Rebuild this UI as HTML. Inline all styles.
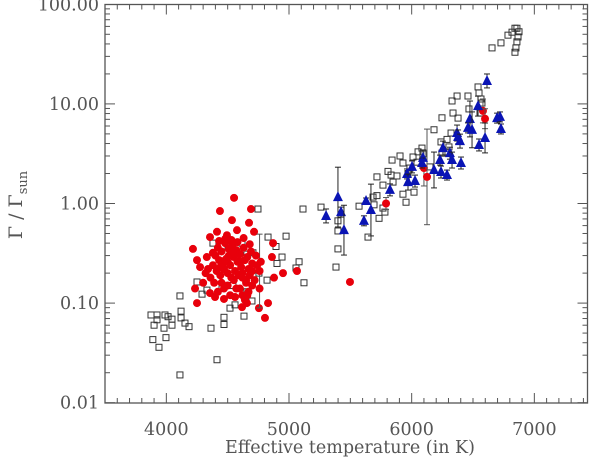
<!DOCTYPE html>
<html><head><meta charset="utf-8">
<style>
html,body{margin:0;padding:0;background:#fff;}
svg{display:block;font-family:"DejaVu Serif","Liberation Serif",serif;}
</style></head>
<body>
<svg id="chart" width="600" height="466" viewBox="0 0 600 466" xmlns="http://www.w3.org/2000/svg">
<g id="axes"></g>
<g id="marks"></g>
<text x="350" y="453" font-size="17.5" text-anchor="middle" fill="#555">Effective temperature (in K)</text>
<text transform="translate(22,205) rotate(-90)" font-size="19" text-anchor="middle" fill="#555">Γ / Γ<tspan font-size="13" dy="5">sun</tspan></text>
</svg>
<script>
const xTicks = [4000, 5000, 6000, 7000];
const yTicks = [0.01, 0.1, 1, 10, 100];
const yTickLabels = ["0.01", "0.10", "1.00", "10.00", "100.00"];

const sqT = [3875,3900,3890,3940,3924,3924,3981,3997,3989,4014,4046,4046,4111,4120,4120,4152,4185,4111,4413,4364,4470,4470,4519,4633,4698,4747,4829,4976,4894,4943,4902,5082,5057,5122,5114,4821,4755,4706,4657,4617,4503,4380,4437,4454,4543,4657,4250,4291,4331,4560,
5261,5399,5399,5399,5383,5571,5644,5685,5693,5717,5717,5734,5766,5782,5766,5807,5840,5832,5848,5880,5905,5929,5929,5954,5970,5986,6011,6019,6043,6052,6084,6092,6149,6182,6239,6247,6288,6304,6321,6329,6337,6370,6378,6247,6280,6459,6467,6541,6549,6565,6573,6557,6655,6728,6785,6818,6842,6858,6875,6867,6858,6850,6842];
const sqG = [0.076,0.060,0.043,0.036,0.076,0.068,0.056,0.045,0.076,0.073,0.069,0.060,0.118,0.083,0.071,0.063,0.058,0.019,0.027,0.056,0.061,0.072,0.089,0.074,0.105,0.88,0.46,0.47,0.37,0.29,0.25,0.26,0.225,0.16,0.88,0.17,0.20,0.32,0.31,0.40,0.37,0.40,0.205,0.14,0.15,0.13,0.163,0.123,0.135,0.096,
0.92,0.67,0.53,0.35,0.23,0.94,0.46,1.16,0.97,1.2,1.85,0.71,0.90,0.82,1.53,2.1,2.73,1.93,1.64,1.89,3.0,2.55,1.24,1.03,2.0,2.27,2.93,1.3,2.6,3.3,3.6,3.15,2.33,5.5,4.15,7.25,4.4,3.7,5.1,10.7,8.1,12.0,7.2,3.2,3.3,12.0,8.9,14.8,12.9,11.2,10.2,8.1,36.5,41,49,52.5,57.5,57.5,53,47,42,36.5,33];

const redT = [4552,4437,4690,4535,4674,4576,4715,4217,4413,4356,4494,4250,4275,4234,4250,4755,4804,4829,4951,5065,4878,4861,4870,4657,4617,4397,4356,5497,5791,6100,6125,6581,6598,4760,
4420,4450,4480,4510,4540,4570,4600,4630,4660,4690,4430,4460,4490,4520,4550,4580,4610,4640,4670,4700,4410,4440,4470,4500,4530,4560,4590,4620,4650,4680,4400,4450,4500,4550,4600,4650,4700,4740,4380,4420,4470,4520,4570,4620,4670,4720,4340,4360,4390,4430,4480,4530,4580,4630,4680,4730,4770,4320,4470,4560,4640,4510,4600,4380,4440,4560,4620,4700,4760,4300,4330,4500,4590,4660,4540,4480];
const redG = [1.14,0.84,0.88,0.68,0.64,0.54,0.52,0.35,0.52,0.46,0.48,0.27,0.23,0.14,0.10,0.089,0.071,0.10,0.20,0.21,0.18,0.29,0.40,0.10,0.091,0.115,0.126,0.163,1.0,2.27,1.85,8.5,7.1,0.21,
0.36,0.33,0.40,0.30,0.38,0.34,0.31,0.36,0.29,0.33,0.27,0.25,0.28,0.24,0.29,0.26,0.23,0.27,0.22,0.25,0.21,0.19,0.22,0.20,0.18,0.21,0.19,0.20,0.17,0.19,0.30,0.16,0.15,0.17,0.14,0.16,0.15,0.24,0.32,0.13,0.14,0.12,0.14,0.12,0.13,0.17,0.22,0.18,0.16,0.42,0.44,0.43,0.41,0.45,0.39,0.30,0.26,0.20,0.11,0.115,0.108,0.35,0.26,0.24,0.23,0.31,0.18,0.21,0.14,0.16,0.29,0.26,0.31,0.12,0.33,0.27];
const redErr = [0,0,0,0,0,0,0,0,0,0,0,0,0,0,0,0,0,0,0,0,0,0,0,0,0,0,0,0,0.06,0.18,0.48,0.12,0.10,0.37];

const triT = [5302,5399,5424,5448,5611,5628,5668,5823,5962,5970,6003,6027,6092,6084,6182,6231,6239,6255,6288,6312,6329,6370,6378,6394,6402,6475,6459,6492,6549,6541,6598,6614,6696,6720,6728];
const triG = [0.75,1.16,0.82,0.54,0.67,1.06,0.86,1.37,1.98,1.64,2.33,1.68,2.87,2.55,2.17,2.73,2.07,3.6,1.93,3.2,2.73,5.1,4.66,4.23,2.55,7.06,5.74,5.49,3.87,9.5,4.55,17.0,7.2,7.4,5.6];
const triErr = [0.07,0.30,0.05,0.25,0.05,0.03,0.26,0.06,0.05,0.08,0.06,0.06,0.08,0.05,0.18,0.05,0.06,0.07,0.05,0.06,0.08,0.08,0.07,0.07,0.06,0.18,0.05,0.18,0.06,0.10,0.15,0.07,0.05,0.05,0.05];

const L = 105, R = 587.5, T0 = 4.5, B = 403;
const xmin = 3500, pxPerK = 0.12267;
function xs(t){ return L + (t - xmin) * pxPerK; }
function ys(g){ return 203.5 - Math.log10(g) * 99.6; }

const NS = "http://www.w3.org/2000/svg";
function mk(tag, attrs, parent){
  const e = document.createElementNS(NS, tag);
  for (const k in attrs) e.setAttribute(k, attrs[k]);
  parent.appendChild(e);
  return e;
}
const axes = document.getElementById('axes');
const marks = document.getElementById('marks');
const ax = "#555";

const frame = mk('rect', {x:L, y:T0, width:R-L, height:B-T0, fill:'none', stroke:ax, 'stroke-width':1.3}, axes);



for (let t = 3600; t <= 7400; t += 100) {
  const x = xs(t);
  const major = t % 1000 === 0;
  const len = major ? 10 : 5;
  const tb = mk('line', {x1:x, y1:B, x2:x, y2:B-len, stroke:ax, 'stroke-width':1}, axes);
  
  
  const tt = mk('line', {x1:x, y1:T0, x2:x, y2:T0+len, stroke:ax, 'stroke-width':1}, axes);
  
  
}
xTicks.forEach(t => {
  const lb = mk('text', {x:xs(t), y:435, 'font-size':17.5, 'text-anchor':'middle', fill:'#555'}, axes);
  lb.textContent = t;
  
  
});
for (let d = -2; d < 2; d++) {
  for (let m = 1; m <= 9; m++) {
    const g = m * Math.pow(10, d);
    const y = ys(g);
    const len = m === 1 ? 10 : 5;
    const tl = mk('line', {x1:L, y1:y, x2:L+len, y2:y, stroke:ax, 'stroke-width':1}, axes);
    
    
    const tr = mk('line', {x1:R, y1:y, x2:R-len, y2:y, stroke:ax, 'stroke-width':1}, axes);
    
    
  }
}
yTicks.forEach((g, i) => {
  const lb = mk('text', {x:99, y:ys(g)+6, 'font-size':17.5, 'text-anchor':'end', fill:'#555'}, axes);
  lb.textContent = yTickLabels[i];
  
  
});

function errbar(x, g, dex, color){
  const y1 = ys(g * Math.pow(10, dex)), y2 = ys(g / Math.pow(10, dex));
  const gg = mk('g', {stroke:color, 'stroke-width':1}, marks);
  
  
  mk('line', {x1:x, y1:y1, x2:x, y2:y2}, gg);
  mk('line', {x1:x-3, y1:y1, x2:x+3, y2:y1}, gg);
  mk('line', {x1:x-3, y1:y2, x2:x+3, y2:y2}, gg);
}

sqT.forEach((t, i) => {
  const x = xs(t), y = ys(sqG[i]);
  const s = mk('rect', {x:x-3, y:y-3, width:6, height:6, fill:'none', stroke:'#333', 'stroke-width':1}, marks);
  
  
});
redT.forEach((t, i) => {
  const x = xs(t), y = ys(redG[i]);
  if (redErr[i]) errbar(x, redG[i], redErr[i], '#555');
  const c = mk('circle', {cx:x, cy:y, r:4, fill:'#e8000b'}, marks);
  
  
});
triT.forEach((t, i) => {
  const x = xs(t), y = ys(triG[i]);
  errbar(x, triG[i], triErr[i], '#222');
  const p = mk('polygon', {points:`${x},${y-6} ${x-5},${y+4} ${x+5},${y+4}`, fill:'#0a14b4'}, marks);
  
  
});
</script>
</body></html>
